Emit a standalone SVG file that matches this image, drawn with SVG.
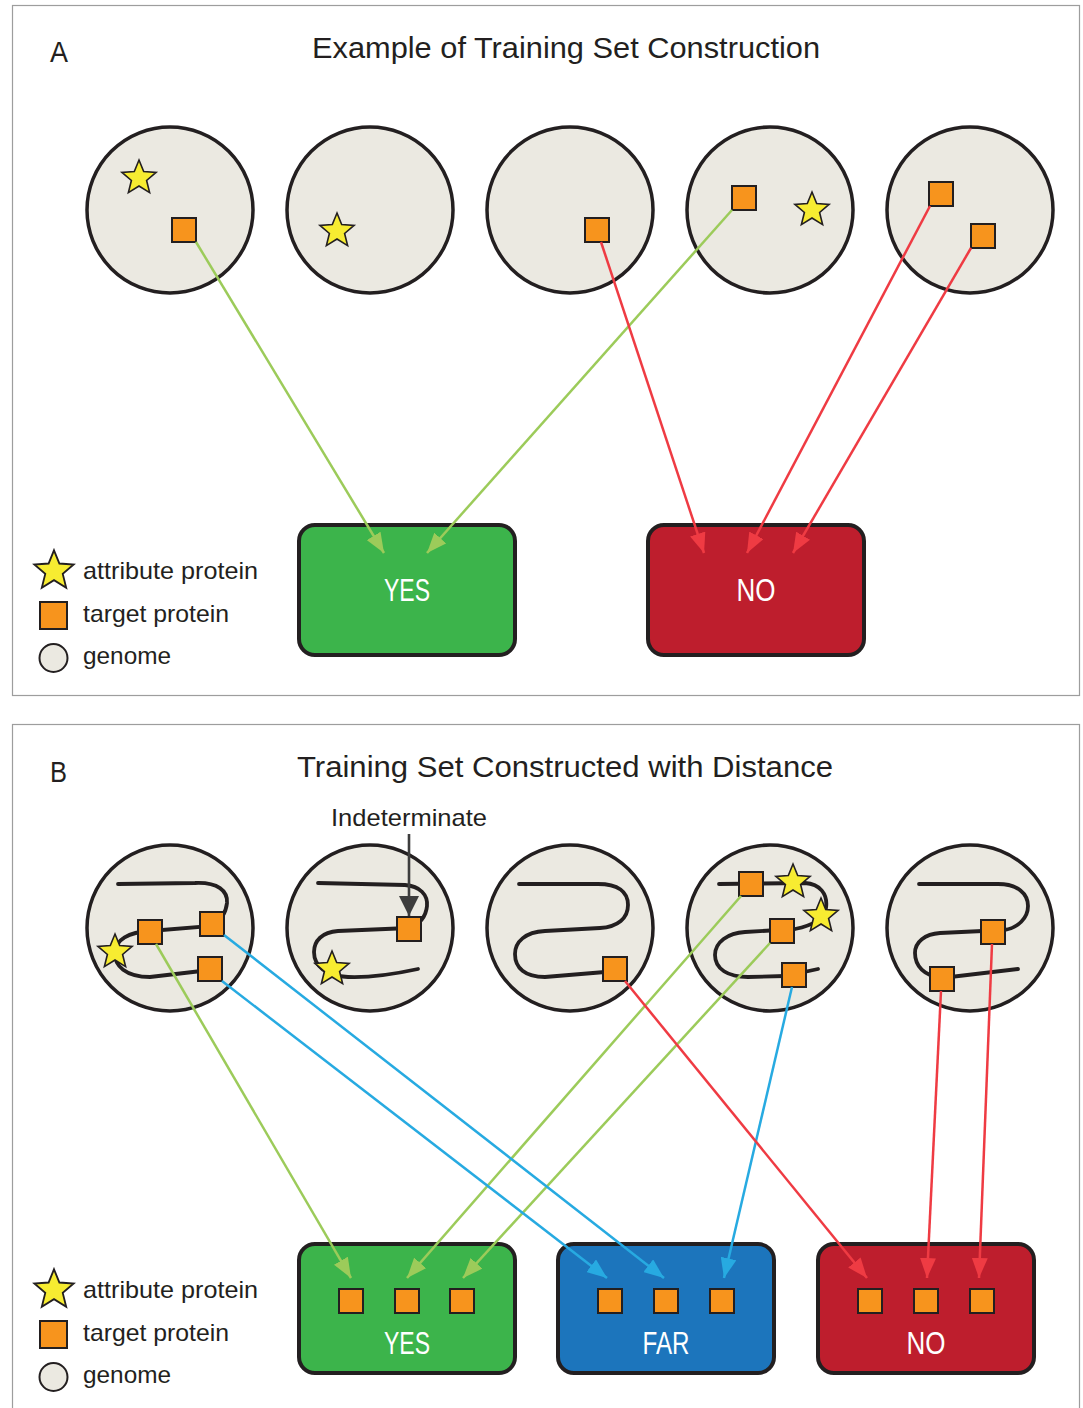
<svg xmlns="http://www.w3.org/2000/svg" xmlns:xlink="http://www.w3.org/1999/xlink" width="1083" height="1408" viewBox="0 0 1083 1408">
<style>
.frame{fill:#fff;stroke:#9d9d9d;stroke-width:1.2}
.genome{fill:#ebe9e1;stroke:#231f20;stroke-width:3.5}
.chrom{fill:none;stroke:#231f20;stroke-width:3.8;stroke-linecap:round}
.sq{fill:#f7941d;stroke:#231f20;stroke-width:2}
.star{fill:#f7ec31;stroke:#231f20;stroke-width:1.6;stroke-linejoin:miter}
.box{stroke:#231f20;stroke-width:4}
.yes{fill:#3cb44b}.no{fill:#be1e2d}.far{fill:#1c75bc}
.boxlabel{font-family:"Liberation Sans",Arial,sans-serif;font-size:31px;fill:#fff;text-anchor:middle}
.title{font-family:"Liberation Sans",Arial,sans-serif;font-size:30px;fill:#231f20}
.leg{font-family:"Liberation Sans",Arial,sans-serif;font-size:24px;fill:#231f20}
.g{stroke:#9ccb5a;stroke-width:2.5;fill:none}
.r{stroke:#ef3b43;stroke-width:2.5;fill:none}
.b{stroke:#27aae1;stroke-width:2.5;fill:none}
.k{stroke:#3d3d3d;stroke-width:2.6;fill:none}
</style>
<defs>
<path id="star" d="M0,-18 L4.7,-6.5 L17.1,-5.6 L7.6,2.5 L10.6,14.6 L0,8 L-10.6,14.6 L-7.6,2.5 L-17.1,-5.6 L-4.7,-6.5 Z"/>
<marker id="ag" viewBox="0 0 20 16" refX="20" refY="8" markerWidth="20" markerHeight="16" markerUnits="userSpaceOnUse" orient="auto"><path d="M0,0 L20,8 L0,16 Z" fill="#9ccb5a"/></marker>
<marker id="ar" viewBox="0 0 20 16" refX="20" refY="8" markerWidth="20" markerHeight="16" markerUnits="userSpaceOnUse" orient="auto"><path d="M0,0 L20,8 L0,16 Z" fill="#ef3b43"/></marker>
<marker id="ab" viewBox="0 0 20 16" refX="20" refY="8" markerWidth="20" markerHeight="16" markerUnits="userSpaceOnUse" orient="auto"><path d="M0,0 L20,8 L0,16 Z" fill="#27aae1"/></marker>
<marker id="ak" viewBox="0 0 20 20" refX="20" refY="10" markerWidth="20" markerHeight="20" markerUnits="userSpaceOnUse" orient="auto"><path d="M0,0 L20,10 L0,20 Z" fill="#3d3d3d"/></marker>
</defs>

<g id="panelA">
<rect class="frame" x="12.5" y="5.5" width="1067" height="690"/>
<text class="title" x="50" y="62" textLength="18" lengthAdjust="spacingAndGlyphs">A</text>
<text class="title" x="312" y="58" textLength="508" lengthAdjust="spacingAndGlyphs">Example of Training Set Construction</text>
</g>

<g id="panelB">
<rect class="frame" x="12.5" y="724.5" width="1067" height="700"/>
<text class="title" x="50" y="782" textLength="17" lengthAdjust="spacingAndGlyphs">B</text>
<text class="title" x="297" y="777" textLength="536" lengthAdjust="spacingAndGlyphs">Training Set Constructed with Distance</text>
</g>

<!-- Panel A genomes -->
<g id="A-genome1">
<circle class="genome" cx="170" cy="210" r="83"/>
<use href="#star" class="star" x="139" y="178"/>
<rect class="sq" x="172" y="218" width="24" height="24"/>
</g>
<g id="A-genome2">
<circle class="genome" cx="370" cy="210" r="83"/>
<use href="#star" class="star" x="337" y="231"/>
</g>
<g id="A-genome3">
<circle class="genome" cx="570" cy="210" r="83"/>
<rect class="sq" x="585" y="218" width="24" height="24"/>
</g>
<g id="A-genome4">
<circle class="genome" cx="770" cy="210" r="83"/>
<rect class="sq" x="732" y="186" width="24" height="24"/>
<use href="#star" class="star" x="812" y="210"/>
</g>
<g id="A-genome5">
<circle class="genome" cx="970" cy="210" r="83"/>
<rect class="sq" x="929" y="182" width="24" height="24"/>
<rect class="sq" x="971" y="224" width="24" height="24"/>
</g>

<g id="A-yes">
<rect class="box yes" x="299" y="525" width="216" height="130" rx="16"/>
<text class="boxlabel" x="407" y="601" textLength="46" lengthAdjust="spacingAndGlyphs">YES</text>
</g>
<g id="A-no">
<rect class="box no" x="648" y="525" width="216" height="130" rx="16"/>
<text class="boxlabel" x="756" y="601" textLength="39" lengthAdjust="spacingAndGlyphs">NO</text>
</g>

<g id="A-legend">
<use href="#star" class="star" transform="translate(54,571) scale(1.15)"/>
<rect class="sq" x="40" y="602" width="27" height="27"/>
<circle cx="53.5" cy="658" r="14" fill="#ebe9e1" stroke="#231f20" stroke-width="2"/>
<text class="leg" x="83" y="579" textLength="175" lengthAdjust="spacingAndGlyphs">attribute protein</text>
<text class="leg" x="83" y="622" textLength="146" lengthAdjust="spacingAndGlyphs">target protein</text>
<text class="leg" x="83" y="664" textLength="88" lengthAdjust="spacingAndGlyphs">genome</text>
</g>

<!-- Panel B genomes -->
<g id="B-genome1">
<circle class="genome" cx="170" cy="928" r="83"/>
<path class="chrom" d="M118,884 L195,883 C218,882 228,891 227,903 C226,912 222,920 212,926 L150,931 C128,932 116,940 115,952 C114,966 126,977 150,977 L210,970"/>
<use href="#star" class="star" x="115" y="952"/>
<rect class="sq" x="200" y="912" width="24" height="24"/>
<rect class="sq" x="138" y="920" width="24" height="24"/>
<rect class="sq" x="198" y="957" width="24" height="24"/>
</g>
<g id="B-genome2">
<circle class="genome" cx="370" cy="928" r="83"/>
<path class="chrom" d="M318,883 L405,885 C420,886 428,895 427,906 C426,916 420,924 409,928 L338,931 C322,932 314,941 314,952 C314,966 326,976 348,977 C372,978 395,974 418,969"/>
<use href="#star" class="star" x="332" y="969"/>
<rect class="sq" x="397" y="917" width="24" height="24"/>
</g>
<g id="B-genome3">
<circle class="genome" cx="570" cy="928" r="83"/>
<path class="chrom" d="M519,884 L598,884 C618,884 628,892 628,905 C628,918 618,927 600,928 L545,931 C525,932 515,942 515,954 C515,968 525,977 545,977 L605,972"/>
<rect class="sq" x="603" y="957" width="24" height="24"/>
</g>
<g id="B-genome4">
<circle class="genome" cx="770" cy="928" r="83"/>
<path class="chrom" d="M719,884 L805,883 C820,884 828,894 826,908 C824,920 810,926 795,929 L745,932 C728,933 715,942 715,955 C715,969 728,977 748,977 L785,976 L818,969"/>
<rect class="sq" x="739" y="872" width="24" height="24"/>
<use href="#star" class="star" x="793" y="882"/>
<use href="#star" class="star" x="821" y="916"/>
<rect class="sq" x="770" y="919" width="24" height="24"/>
<rect class="sq" x="782" y="963" width="24" height="24"/>
</g>
<g id="B-genome5">
<circle class="genome" cx="970" cy="928" r="83"/>
<path class="chrom" d="M919,884 L998,884 C1018,884 1028,894 1028,906 C1028,918 1018,928 1004,930 L940,933 C925,934 915,942 915,953 C915,966 924,976 942,978 L1018,969"/>
<rect class="sq" x="981" y="920" width="24" height="24"/>
<rect class="sq" x="930" y="967" width="24" height="24"/>
</g>

<g id="B-yes">
<rect class="box yes" x="299" y="1244" width="216" height="129" rx="16"/>
<rect class="sq" x="339" y="1289" width="24" height="24"/>
<rect class="sq" x="395" y="1289" width="24" height="24"/>
<rect class="sq" x="450" y="1289" width="24" height="24"/>
<text class="boxlabel" x="407" y="1354" textLength="46" lengthAdjust="spacingAndGlyphs">YES</text>
</g>
<g id="B-far">
<rect class="box far" x="558" y="1244" width="216" height="129" rx="16"/>
<rect class="sq" x="598" y="1289" width="24" height="24"/>
<rect class="sq" x="654" y="1289" width="24" height="24"/>
<rect class="sq" x="710" y="1289" width="24" height="24"/>
<text class="boxlabel" x="666" y="1354" textLength="47" lengthAdjust="spacingAndGlyphs">FAR</text>
</g>
<g id="B-no">
<rect class="box no" x="818" y="1244" width="216" height="129" rx="16"/>
<rect class="sq" x="858" y="1289" width="24" height="24"/>
<rect class="sq" x="914" y="1289" width="24" height="24"/>
<rect class="sq" x="970" y="1289" width="24" height="24"/>
<text class="boxlabel" x="926" y="1354" textLength="39" lengthAdjust="spacingAndGlyphs">NO</text>
</g>

<g id="B-legend">
<use href="#star" class="star" transform="translate(54,1290) scale(1.15)"/>
<rect class="sq" x="40" y="1321" width="27" height="27"/>
<circle cx="53.5" cy="1377" r="14" fill="#ebe9e1" stroke="#231f20" stroke-width="2"/>
<text class="leg" x="83" y="1298" textLength="175" lengthAdjust="spacingAndGlyphs">attribute protein</text>
<text class="leg" x="83" y="1341" textLength="146" lengthAdjust="spacingAndGlyphs">target protein</text>
<text class="leg" x="83" y="1383" textLength="88" lengthAdjust="spacingAndGlyphs">genome</text>
</g>

<g id="indeterminate">
<text class="leg" x="331" y="826" textLength="156" lengthAdjust="spacingAndGlyphs">Indeterminate</text>
</g>

<g id="connectors">
<path class="g" d="M196,242 L384,553" marker-end="url(#ag)"/>
<path class="g" d="M732,210 L427,553" marker-end="url(#ag)"/>
<path class="r" d="M601,242 L704,553" marker-end="url(#ar)"/>
<path class="r" d="M930,206 L747,553" marker-end="url(#ar)"/>
<path class="r" d="M971,248 L793,553" marker-end="url(#ar)"/>

<path class="k" d="M409,834 L409,916" marker-end="url(#ak)"/>

<path class="g" d="M156,944 L351,1278" marker-end="url(#ag)"/>
<path class="g" d="M741,896 L407,1278" marker-end="url(#ag)"/>
<path class="g" d="M770,943 L463,1278" marker-end="url(#ag)"/>
<path class="b" d="M224,935 L664,1278" marker-end="url(#ab)"/>
<path class="b" d="M222,981 L607,1278" marker-end="url(#ab)"/>
<path class="b" d="M792,987 L724,1278" marker-end="url(#ab)"/>
<path class="r" d="M625,981 L867,1278" marker-end="url(#ar)"/>
<path class="r" d="M941,991 L927,1278" marker-end="url(#ar)"/>
<path class="r" d="M992,944 L979,1278" marker-end="url(#ar)"/>
</g>
</svg>
